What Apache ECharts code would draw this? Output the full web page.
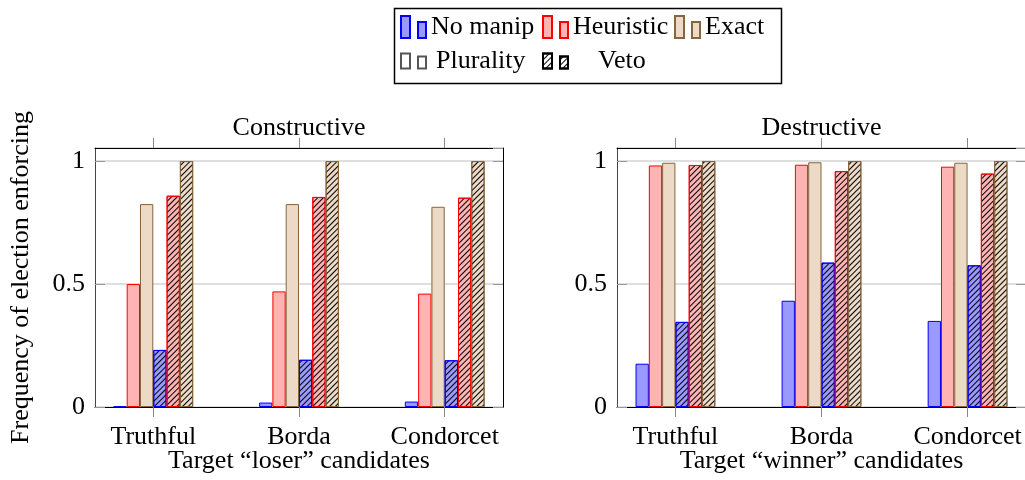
<!DOCTYPE html>
<html>
<head>
<meta charset="utf-8">
<style>
html, body { margin: 0; padding: 0; background: #fff; }
#chart { width: 1025px; height: 480px; }
</style>
<script src="https://cdn.jsdelivr.net/npm/echarts@6/dist/echarts.min.js"></script>
</head>
<body>
<div id="chart"></div>
<script>
// categories on the x axis (same for both panels)
var categories = ['Truthful', 'Borda', 'Condorcet'];

// Constructive panel
var conNoManipPlur = [0.003, 0.018, 0.022];
var conHeurPlur = [0.500, 0.470, 0.461];
var conExactPlur = [0.825, 0.825, 0.814];
var conNoManipVeto = [0.232, 0.192, 0.190];
var conHeurVeto = [0.859, 0.854, 0.851];
var conExactVeto = [1.0, 1.0, 1.0];

// Destructive panel
var desNoManipPlur = [0.176, 0.432, 0.350];
var desHeurPlur = [0.982, 0.985, 0.977];
var desExactPlur = [0.993, 0.995, 0.993];
var desNoManipVeto = [0.346, 0.587, 0.576];
var desHeurVeto = [0.984, 0.959, 0.949];
var desExactVeto = [1.0, 1.0, 1.0];

var FONT = "'Liberation Serif', 'DejaVu Serif', serif";
var FS = 26;
var myChart;

// bar colours: [fill, border]
var blue = ['#9999ff', '#0000ff'];
var red = ['#ffb3b3', '#ff0000'];
var tan = ['#ecd9c6', '#86653f'];
var hatch = {
	symbol: 'rect',
	symbolSize: 1,
	dashArrayX: [1, 0],
	dashArrayY: [1, 2.5],
	rotation: -Math.PI / 4,
	color: '#000'
};

function toPairs(arr) {
	var out = [];
	for (var i = 0; i < arr.length; i++) {
		out.push([i, arr[i]]);
	}
	return out;
}

function barSeries(name, arr, col, veto, grid) {
	var style = { color: col[0], borderColor: col[1], borderWidth: 1 };
	if (veto) style.decal = hatch;
	return {
		name: name,
		type: 'bar',
		xAxisIndex: grid * 2,
		yAxisIndex: grid * 2,
		barWidth: 13.3,
		barGap: '0%',
		itemStyle: style,
		emphasis: { disabled: true },
		data: toPairs(arr)
	};
}

function xAxes(grid, title, axisName) {
	return [{
		gridIndex: grid,
		type: 'value',
		min: -0.4,
		max: 2.4,
		position: 'bottom',
		axisLine: { show: true, onZero: false, lineStyle: { color: '#000', width: 1 } },
		axisTick: { show: true, customValues: [0, 1, 2], inside: false, length: 10, lineStyle: { color: '#888' } },
		axisLabel: {
			customValues: [0, 1, 2],
			margin: 17,
			fontSize: FS,
			color: '#000',
			formatter: function(v) { return categories[Math.round(v)]; }
		},
		splitLine: { show: false },
		name: axisName,
		nameLocation: 'middle',
		nameGap: 41,
		nameMoveOverlap: false,
		nameTextStyle: { fontSize: FS, color: '#000' }
	}, {
		gridIndex: grid,
		type: 'value',
		min: -0.4,
		max: 2.4,
		position: 'top',
		axisLine: { show: true, onZero: false, lineStyle: { color: '#000', width: 1 } },
		axisTick: { show: true, customValues: [0, 1, 2], inside: false, length: 10, lineStyle: { color: '#888' } },
		axisLabel: { show: false },
		splitLine: { show: false },
		name: title,
		nameLocation: 'middle',
		nameGap: 7,
		nameMoveOverlap: false,
		nameTextStyle: { fontSize: FS, color: '#000' }
	}];
}

function yAxes(grid, axisName) {
	return [{
		gridIndex: grid,
		type: 'value',
		min: 0,
		max: 1.053,
		interval: 0.5,
		position: 'left',
		axisLine: { show: true, onZero: false, lineStyle: { color: '#444', width: 1 } },
		axisTick: { show: true, inside: true, length: 10, lineStyle: { color: '#999' } },
		axisLabel: { margin: 10, fontSize: FS, color: '#000', formatter: function(v) { return String(v); } },
		splitLine: { show: true, lineStyle: { color: '#d4d4d4', width: 1.5 } },
		name: axisName,
		nameLocation: 'middle',
		nameGap: 61,
		nameMoveOverlap: false,
		nameTextStyle: { fontSize: FS, color: '#000' }
	}, {
		gridIndex: grid,
		type: 'value',
		min: 0,
		max: 1.053,
		interval: 0.5,
		position: 'right',
		axisLine: { show: true, onZero: false, lineStyle: { color: '#000', width: 1 } },
		axisTick: { show: true, inside: true, length: 10, lineStyle: { color: '#999' } },
		axisLabel: { show: false },
		splitLine: { show: false }
	}];
}

function legendBox(name, left, top, path, w, h, pad) {
	return {
		data: [name],
		left: left,
		top: top,
		padding: 0,
		icon: path,
		itemWidth: w,
		itemHeight: h,
		selectedMode: false,
		textStyle: { fontFamily: FONT, fontSize: FS, color: '#000', padding: [0, 0, 0, pad] }
	};
}

function eChartInit() {
	myChart = echarts.init(document.getElementById('chart'), null, { renderer: 'canvas' });
	var iconTall = 'path://M0,0H9V22H0Z M17,6H25V22H17Z';
	var iconShort = 'path://M0,0H9V15H0Z M17,3H25V15H17Z';
	var series = [
		barSeries('con no manip plurality', conNoManipPlur, blue, false, 0),
		barSeries('con heuristic plurality', conHeurPlur, red, false, 0),
		barSeries('con exact plurality', conExactPlur, tan, false, 0),
		barSeries('con no manip veto', conNoManipVeto, blue, true, 0),
		barSeries('con heuristic veto', conHeurVeto, red, true, 0),
		barSeries('con exact veto', conExactVeto, tan, true, 0),
		barSeries('des no manip plurality', desNoManipPlur, blue, false, 1),
		barSeries('des heuristic plurality', desHeurPlur, red, false, 1),
		barSeries('des exact plurality', desExactPlur, tan, false, 1),
		barSeries('des no manip veto', desNoManipVeto, blue, true, 1),
		barSeries('des heuristic veto', desHeurVeto, red, true, 1),
		barSeries('des exact veto', desExactVeto, tan, true, 1)
	];
	// legend-only series on a hidden grid
	var legendItems = [
		['No manip', { color: blue[0], borderColor: blue[1], borderWidth: 1 }],
		['Heuristic', { color: red[0], borderColor: red[1], borderWidth: 1 }],
		['Exact', { color: tan[0], borderColor: tan[1], borderWidth: 1 }],
		['Plurality', { color: '#fff', borderColor: '#555', borderWidth: 1 }],
		['Veto', { color: '#fff', borderColor: '#000', borderWidth: 1, decal: hatch }]
	];
	for (var i = 0; i < legendItems.length; i++) {
		series.push({
			name: legendItems[i][0],
			type: 'bar',
			xAxisIndex: 4,
			yAxisIndex: 4,
			itemStyle: legendItems[i][1],
			data: []
		});
	}
	var option = {
		animation: false,
		textStyle: { fontFamily: FONT, fontSize: FS, color: '#000' },
		grid: [
			{ left: 95, top: 148, width: 408, height: 259, outerBoundsMode: 'none' },
			{ left: 617, top: 148, width: 409, height: 259, outerBoundsMode: 'none' },
			{ left: 0, top: 0, width: 1, height: 1, show: false, outerBoundsMode: 'none' }
		],
		xAxis: xAxes(0, 'Constructive', 'Target \u201closer\u201d candidates')
			.concat(xAxes(1, 'Destructive', 'Target \u201cwinner\u201d candidates'))
			.concat([{ gridIndex: 2, type: 'category', show: false, data: ['x'] }]),
		yAxis: yAxes(0, 'Frequency of election enforcing')
			.concat(yAxes(1, ''))
			.concat([{ gridIndex: 2, type: 'value', show: false }]),
		legend: [
			legendBox('No manip', 400, 14, iconTall, 25, 22, 0),
			legendBox('Heuristic', 542, 14, iconTall, 25, 22, 0),
			legendBox('Exact', 674, 14, iconTall, 25, 22, 0),
			legendBox('Plurality', 400, 48, iconShort, 25, 15, 5),
			legendBox('Veto', 542, 48, iconShort, 25, 15, 25)
		],
		graphic: [{
			type: 'rect',
			left: 392,
			top: 6,
			shape: { width: 387, height: 75 },
			style: { fill: 'none', stroke: '#000', lineWidth: 1.5 },
			z: 100
		}],
		series: series
	};
	myChart.setOption(option);
}

eChartInit();
</script>
</body>
</html>
